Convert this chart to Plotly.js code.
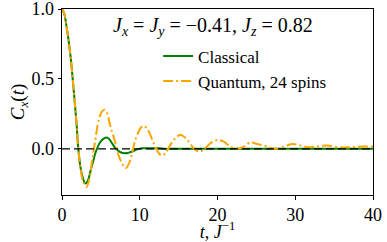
<!DOCTYPE html>
<html>
<head>
<meta charset="utf-8">
<script src="https://cdn.plot.ly/plotly-3.0.1.min.js"></script>
<style>html,body{margin:0;padding:0;background:#fff;}#chart{width:387px;height:242px;}</style>
</head>
<body>
<div id="chart"></div>
<script>
// Classical spin dynamics
const tClassical = [0, 0.3, 0.55, 0.86, 1.12, 1.41, 1.63, 1.85, 2.1, 2.4, 2.7, 3.02, 3.35, 3.66, 4.0, 4.3, 4.73, 5.1, 5.37, 5.68, 6.0, 6.23, 6.55, 6.88, 7.2, 7.52, 8.16, 8.6, 9.02, 9.87, 10.5, 11.16, 12.4, 13.3, 14, 16, 20, 25, 30, 35, 40];
const cClassical = [1.0, 0.965, 0.886, 0.77, 0.65, 0.48, 0.34, 0.195, 0.0, -0.14, -0.21, -0.248, -0.225, -0.16, -0.09, -0.03, 0.03, 0.06, 0.073, 0.082, 0.074, 0.058, 0.03, 0.005, -0.012, -0.024, -0.031, -0.027, -0.019, 0.0, 0.004, 0.005, 0.004, 0.0, 0.0, 0.0, 0.0, 0.0, 0.0, 0.0, 0.0];

// Quantum, 24 spins
const tQuantum = [0, 0.3, 0.55, 0.86, 1.12, 1.41, 1.63, 1.85, 2.1, 2.4, 2.7, 3.15, 3.5, 3.88, 4.22, 4.73, 5.1, 5.45, 5.8, 6.23, 6.88, 7.3, 7.95, 8.25, 8.8, 9.45, 10.1, 10.5, 11.0, 11.5, 12.0, 12.5, 12.88, 13.3, 13.95, 14.6, 15.23, 15.66, 16.3, 16.94, 17.6, 18.2, 19.1, 19.95, 20.8, 21.66, 22.5, 23.4, 24.2, 25.1, 26.2, 27.4, 28.5, 29.6, 30.7, 31.5, 32.6, 34.1, 35.8, 37.1, 38.8, 40];
const cQuantum = [1.0, 0.965, 0.886, 0.77, 0.65, 0.48, 0.34, 0.195, 0.0, -0.145, -0.23, -0.272, -0.22, -0.08, 0.04, 0.21, 0.265, 0.28, 0.255, 0.16, 0.04, -0.05, -0.125, -0.137, -0.077, 0.067, 0.148, 0.165, 0.14, 0.08, 0.015, -0.035, -0.048, -0.03, 0.03, 0.077, 0.1, 0.088, 0.052, 0.005, -0.019, -0.007, 0.04, 0.064, 0.052, 0.016, 0.0, 0.016, 0.046, 0.034, 0.02, 0.0, 0.016, 0.034, 0.024, 0.012, 0.016, 0.024, 0.01, 0.012, 0.016, 0.016];

const xTicks = [0, 10, 20, 30, 40];
const yTicks = [0.0, 0.5, 1.0];
const yTickText = ['0.0', '0.5', '1.0'];

const FONT = 'Liberation Serif, Times New Roman, serif';

const traces = [
  {x: tClassical, y: cClassical, mode: 'lines', name: 'Classical',
   line: {color: 'green', width: 2, shape: 'spline', smoothing: 1}},
  {x: tQuantum, y: cQuantum, mode: 'lines', name: 'Quantum, 24 spins',
   line: {color: 'orange', width: 2, dash: '10px,3px,2px,3px', shape: 'spline', smoothing: 1}}
];

const layout = {
  width: 387, height: 242,
  margin: {l: 61.5, r: 14, t: 9.3, b: 47},
  paper_bgcolor: '#fff', plot_bgcolor: '#fff',
  font: {family: FONT, size: 18, color: '#000'},
  showlegend: true,
  legend: {x: 0.309, y: 0.842, xanchor: 'left', yanchor: 'top', bgcolor: 'rgba(255,255,255,0)',
           font: {family: FONT, size: 17, color: '#000'}, tracegroupgap: 0},
  xaxis: {range: [0, 40], tickvals: xTicks, ticktext: xTicks.map(String),
          showgrid: false, zeroline: false, showline: true, linecolor: '#000', linewidth: 1,
          mirror: true, ticks: 'outside', ticklen: 3.5, tickcolor: '#000',
          ticklabeloverflow: 'allow',
          tickfont: {family: FONT, size: 18},
          title: {text: '<i>t</i>, <i>J</i><sup>−1</sup>', font: {family: FONT, size: 18}, standoff: 7}},
  yaxis: {range: [-0.33, 1.0], tickvals: yTicks, ticktext: yTickText,
          showgrid: false, zeroline: false, showline: true, linecolor: '#000', linewidth: 1,
          mirror: true, ticks: 'outside', ticklen: 3.5, tickcolor: '#000',
          ticklabeloverflow: 'allow',
          tickfont: {family: FONT, size: 18},
          title: {text: '<i>C<sub>x</sub></i>(<i>t</i>)', font: {family: FONT, size: 19}, standoff: 0}},
  shapes: [{type: 'line', xref: 'paper', x0: 0, x1: 1, yref: 'y', y0: 0, y1: 0,
            line: {color: '#000', width: 1.2, dash: '8px,4px'}, layer: 'above'}],
  annotations: [{xref: 'paper', yref: 'paper', x: 0.158, y: 0.905, xanchor: 'left', yanchor: 'middle',
                 showarrow: false, font: {family: FONT, size: 20, color: '#000'},
                 text: '<i>J<sub>x</sub></i> = <i>J<sub>y</sub></i> = −0.41, <i>J<sub>z</sub></i> = 0.82'}]
};

Plotly.newPlot('chart', traces, layout, {displayModeBar: false, staticPlot: true});
</script>
</body>
</html>
